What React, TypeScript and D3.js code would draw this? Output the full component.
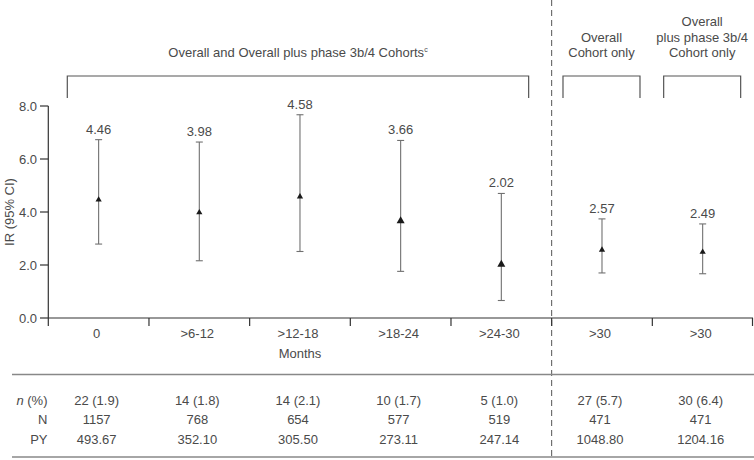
import React from "react";
import * as d3 from "d3";

const categories = ["0", ">6-12", ">12-18", ">18-24", ">24-30", ">30", ">30"];
const irValues = [4.46, 3.98, 4.58, 3.66, 2.02, 2.57, 2.49];
const ciLower = [2.79, 2.16, 2.51, 1.76, 0.66, 1.7, 1.67];
const ciUpper = [6.73, 6.64, 7.67, 6.7, 4.7, 3.74, 3.55];
const markerLarge = [false, false, false, true, true, false, false];
const yTicks = [0, 2, 4, 6, 8];
const nPercent = ["22 (1.9)", "14 (1.8)", "14 (2.1)", "10 (1.7)", "5 (1.0)", "27 (5.7)", "30 (6.4)"];
const nTotal = ["1157", "768", "654", "577", "519", "471", "471"];
const personYears = ["493.67", "352.10", "305.50", "273.11", "247.14", "1048.80", "1204.16"];
const groupFirst = [0, 5, 6];
const groupLast = [4, 5, 6];
const groupLines = [
  ["Overall and Overall plus phase 3b/4 Cohorts"],
  ["Overall", "Cohort only"],
  ["Overall", "plus phase 3b/4", "Cohort only"],
];

const W = 754;
const H = 460;
const FONT = "'Liberation Sans', Arial, sans-serif";
const TXT = "#4a4a4a";
const FS = 13;

export default function App() {
  const idx = categories.map((_, i) => String(i));
  const x = d3.scaleBand<string>().domain(idx).range([48.3, 753]).padding(0);
  const bw = x.bandwidth();
  const cx = (i: number) => (x(String(i)) as number) + bw / 2;
  const y = d3.scaleLinear().domain([0, 8]).range([318, 106]);
  const dashX = x("5") as number;

  const triSmall = d3.symbol(d3.symbolTriangle, 17)() as string;
  const triLarge = d3.symbol(d3.symbolTriangle, 28)() as string;

  const bracketSpan = (g: number): [number, number] => {
    if (g === 0) return [(x(String(groupFirst[g])) as number) + 19, (x(String(groupLast[g])) as number) + bw - 23];
    const c = cx(groupFirst[g]);
    return [c - 39, c + 38];
  };

  return (
    <svg width={W} height={H} style={{ position: "absolute", left: 0, top: 0, background: "#fff" }} fontFamily={FONT}>
      {/* Dashed divider */}
      <line x1={dashX} x2={dashX} y1={0} y2={H} stroke="#555" strokeWidth={1} strokeDasharray="6,4" />

      {/* Group headers & brackets */}
      {groupLines.map((lines, g) => {
        const [a, b] = bracketSpan(g);
        const mid = (a + b) / 2;
        const lastY = 57;
        return (
          <g key={g}>
            <text textAnchor="middle" fontSize={FS} fill={TXT}>
              {lines.map((ln, k) => (
                <tspan key={k} x={mid} y={lastY - (lines.length - 1 - k) * 15.5}>
                  {ln}
                </tspan>
              ))}
              {g === 0 ? (
                <tspan fontSize={7} dy={-5}>
                  c
                </tspan>
              ) : null}
            </text>
            <path d={`M${a},98V76H${b}V98`} fill="none" stroke="#555" strokeWidth={1.2} />
          </g>
        );
      })}

      {/* Y axis */}
      <line x1={x("0")} x2={x("0")} y1={y(8)} y2={y(0)} stroke="#333" strokeWidth={1.2} />
      {yTicks.map((t) => (
        <g key={t}>
          <line x1={40} x2={x("0")} y1={y(t)} y2={y(t)} stroke="#333" strokeWidth={1.2} />
          <text x={37} y={y(t)} dy="0.35em" textAnchor="end" fontSize={FS} fill={TXT}>
            {t.toFixed(1)}
          </text>
        </g>
      ))}
      <text
        transform={`translate(9,${y(4)}) rotate(-90)`}
        textAnchor="middle"
        dy="0.35em"
        fontSize={FS}
        fill={TXT}
      >
        IR (95% CI)
      </text>

      {/* X axis */}
      <line x1={x("0")} x2={753} y1={y(0)} y2={y(0)} stroke="#333" strokeWidth={1.2} />
      {idx.map((d, i) => (
        <line key={"t" + i} x1={x(d)} x2={x(d)} y1={y(0)} y2={y(0) + 8} stroke="#333" strokeWidth={1.2} />
      ))}
      <line x1={752.5} x2={752.5} y1={y(0)} y2={y(0) + 8} stroke="#333" strokeWidth={1.2} />
      {categories.map((c, i) => (
        <text key={"c" + i} x={cx(i) - 2} y={333} dy="0.35em" textAnchor="middle" fontSize={FS} fill={TXT}>
          {c}
        </text>
      ))}
      <text x={((x("0") as number) + dashX) / 2} y={353} dy="0.35em" textAnchor="middle" fontSize={FS} fill={TXT}>
        Months
      </text>

      {/* Error bars and points */}
      {irValues.map((v, i) => {
        const c = cx(i);
        return (
          <g key={"p" + i}>
            <line x1={c} x2={c} y1={y(ciLower[i])} y2={y(ciUpper[i])} stroke="#707070" strokeWidth={1.1} />
            <line x1={c - 3.5} x2={c + 3.5} y1={y(ciLower[i])} y2={y(ciLower[i])} stroke="#707070" strokeWidth={1.1} />
            <line x1={c - 3.5} x2={c + 3.5} y1={y(ciUpper[i])} y2={y(ciUpper[i])} stroke="#707070" strokeWidth={1.1} />
            <path d={markerLarge[i] ? triLarge : triSmall} transform={`translate(${c},${y(v)})`} fill="#1a1a1a" />
            <text x={c} y={y(ciUpper[i]) - 6} textAnchor="middle" fontSize={FS} fill={TXT}>
              {v.toFixed(2)}
            </text>
          </g>
        );
      })}

      {/* Table */}
      <line x1={12} x2={W} y1={374.5} y2={374.5} stroke="#888" strokeWidth={1.5} />
      <line x1={12} x2={W} y1={457} y2={457} stroke="#888" strokeWidth={1.5} />
      <text x={47.5} y={400} dy="0.35em" textAnchor="end" fontSize={FS} fill={TXT}>
        <tspan fontStyle="italic">n</tspan> (%)
      </text>
      <text x={47.5} y={419.5} dy="0.35em" textAnchor="end" fontSize={FS} fill={TXT}>
        N
      </text>
      <text x={47.5} y={439} dy="0.35em" textAnchor="end" fontSize={FS} fill={TXT}>
        PY
      </text>
      {categories.map((_, i) => (
        <g key={"r" + i}>
          <text x={cx(i) - 2} y={400} dy="0.35em" textAnchor="middle" fontSize={FS} fill={TXT}>
            {nPercent[i]}
          </text>
          <text x={cx(i) - 2} y={419.5} dy="0.35em" textAnchor="middle" fontSize={FS} fill={TXT}>
            {nTotal[i]}
          </text>
          <text x={cx(i) - 2} y={439} dy="0.35em" textAnchor="middle" fontSize={FS} fill={TXT}>
            {personYears[i]}
          </text>
        </g>
      ))}
    </svg>
  );
}
